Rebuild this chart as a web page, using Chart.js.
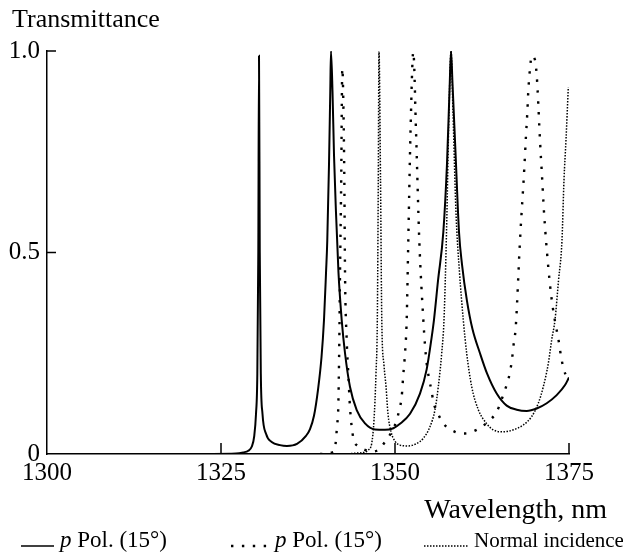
<!DOCTYPE html>
<html>
<head>
<meta charset="utf-8">
<script src="https://cdn.jsdelivr.net/npm/chart.js@4.4.1/dist/chart.umd.min.js"></script>
<style>
  html, body { margin: 0; padding: 0; background: #fff; }
  #chart { display: block; }
</style>
</head>
<body>
<canvas id="chart" width="623" height="558"></canvas>
<script>
// ================= data =================
const xTicks = [1300, 1325, 1350, 1375];
const yTicks = [0, 0.5, 1.0];

// p Pol. (15°) — solid
const solidWl = [1323.0, 1327.16, 1328.20, 1328.92, 1329.41, 1329.78, 1330.03, 1330.22, 1330.36, 1330.46,
  1330.57, 1330.72, 1330.96, 1331.47, 1332.28, 1333.48, 1334.48, 1335.92, 1337.21, 1337.79,
  1338.36, 1338.94, 1339.44, 1339.80, 1340.09, 1340.27, 1340.52, 1340.70, 1340.80, 1341.02,
  1341.24, 1341.52, 1341.88, 1342.34, 1342.82, 1343.53, 1344.50, 1345.69, 1347.13, 1348.56,
  1349.76, 1350.72, 1352.16, 1353.59, 1354.55, 1355.27, 1355.60, 1356.18, 1356.94, 1357.47,
  1357.83, 1358.05, 1358.26, 1358.69, 1359.20, 1359.63, 1360.34, 1361.13, 1362.21, 1363.22,
  1364.61, 1366.05, 1367.49, 1368.92, 1370.36, 1371.80, 1373.23, 1374.43, 1375.0];
const solidT = [0, 0.001, 0.004, 0.008, 0.018, 0.045, 0.10, 0.2, 0.5, 0.988,
  0.5, 0.2, 0.10, 0.05, 0.03, 0.022, 0.02, 0.025, 0.045, 0.062,
  0.095, 0.16, 0.24, 0.333, 0.45, 0.53, 0.72, 0.9, 1.0, 0.9,
  0.74, 0.6, 0.45, 0.333, 0.25, 0.167, 0.109, 0.076, 0.061, 0.06,
  0.064, 0.075, 0.10, 0.15, 0.21, 0.29, 0.333, 0.43, 0.55, 0.72,
  0.9, 1.0, 0.92, 0.75, 0.55, 0.47, 0.38, 0.31, 0.25, 0.2,
  0.15, 0.12, 0.11, 0.107, 0.113, 0.126, 0.146, 0.171, 0.19];

// p Pol. (15°) — coarse dots
const coarseWl = [1339.22, 1341.09, 1341.38, 1341.52, 1341.67, 1341.85, 1342.00, 1342.10, 1342.27, 1342.43,
  1342.60, 1342.72, 1342.82, 1343.06, 1343.29, 1343.53, 1344.01, 1344.68, 1345.69, 1346.70,
  1347.56, 1348.56, 1349.67, 1350.24, 1350.62, 1350.96, 1351.19, 1351.44, 1351.68, 1351.91,
  1352.23, 1352.63, 1353.02, 1353.49, 1354.07, 1354.31, 1354.55, 1354.93, 1355.27, 1355.50,
  1356.18, 1356.94, 1358.62, 1360.06, 1361.74, 1363.36, 1364.61, 1365.80, 1366.28, 1366.62,
  1366.85, 1367.00, 1367.24, 1367.38, 1367.96, 1368.58, 1368.82, 1369.01, 1369.15, 1369.40,
  1369.64, 1370.11, 1370.36, 1370.59, 1370.73, 1370.98, 1371.08, 1371.41, 1371.84, 1372.27,
  1372.70, 1373.13, 1373.46, 1373.71, 1373.95, 1374.28, 1374.71];
const coarseT = [0, 0.005, 0.015, 0.035, 0.07, 0.117, 0.283, 0.449, 0.68, 0.957,
  0.85, 0.68, 0.449, 0.283, 0.2, 0.117, 0.04, 0.02, 0.01, 0.006,
  0.01, 0.03, 0.06, 0.084, 0.11, 0.142, 0.196, 0.25, 0.333, 0.53,
  0.8, 0.998, 0.8, 0.53, 0.333, 0.27, 0.225, 0.184, 0.155, 0.13,
  0.1, 0.076, 0.055, 0.051, 0.06, 0.08, 0.105, 0.159, 0.185, 0.213,
  0.24, 0.266, 0.295, 0.323, 0.53, 0.71, 0.79, 0.847, 0.9, 0.957,
  0.988, 0.978, 0.94, 0.868, 0.814, 0.731, 0.703, 0.6, 0.5, 0.42,
  0.36, 0.316, 0.287, 0.258, 0.233, 0.208, 0.19];

// Normal incidence — fine dots
const normalWl = [1342.82, 1344.25, 1345.69, 1346.16, 1346.65, 1346.98, 1347.27, 1347.46, 1347.60, 1347.70,
  1347.92, 1348.10, 1348.42, 1348.71, 1348.99, 1349.43, 1350.00, 1350.72, 1351.91, 1353.12,
  1354.07, 1355.03, 1355.75, 1356.22, 1356.71, 1357.04, 1357.40, 1357.76, 1358.05, 1358.33,
  1358.76, 1359.27, 1359.81, 1360.30, 1361.02, 1361.97, 1363.18, 1364.12, 1365.56, 1367.00,
  1368.43, 1369.64, 1370.59, 1371.31, 1372.03, 1372.51, 1372.99, 1373.49, 1373.99, 1374.28,
  1374.57, 1374.90];
const normalT = [0, 0.002, 0.005, 0.01, 0.026, 0.084, 0.2, 0.333, 0.68, 1.0,
  0.68, 0.333, 0.22, 0.167, 0.1, 0.055, 0.032, 0.022, 0.02, 0.026,
  0.039, 0.068, 0.11, 0.167, 0.25, 0.333, 0.55, 0.85, 1.0, 0.85,
  0.6, 0.45, 0.333, 0.25, 0.167, 0.11, 0.075, 0.06, 0.055, 0.06,
  0.072, 0.093, 0.126, 0.167, 0.225, 0.283, 0.333, 0.43, 0.53, 0.68,
  0.78, 0.91];

// ================= chart =================
const SERIF = "'Liberation Serif', 'Times New Roman', serif";
Chart.defaults.font.family = SERIF;
Chart.defaults.color = '#000';

const toPoints = (xs, ys) => xs.map((x, i) => ({ x, y: ys[i] }));

const lineStyles = [
  { borderWidth: 2, borderDash: [] },
  { borderWidth: 2.4, borderDash: [2.4, 8.5] },
  { borderWidth: 1.5, borderDash: [1.5, 1.5] }
];

// inward ticks, axis texts and the legend
const decorations = {
  id: 'decorations',
  afterDraw(chart) {
    const { ctx, chartArea: a, scales: { x, y } } = chart;
    ctx.save();
    ctx.strokeStyle = '#000';
    ctx.lineWidth = 1.5;
    ctx.beginPath();
    yTicks.slice(1).forEach(v => {
      const py = y.getPixelForValue(v);
      ctx.moveTo(a.left, py);
      ctx.lineTo(a.left + 9, py);
    });
    xTicks.slice(1).forEach(v => {
      const px = x.getPixelForValue(v);
      ctx.moveTo(px, a.bottom);
      ctx.lineTo(px, a.bottom - 11);
    });
    ctx.stroke();

    ctx.fillStyle = '#000';
    ctx.textBaseline = 'alphabetic';
    ctx.font = `26px ${SERIF}`;
    ctx.fillText('Transmittance', 12, 27);
    ctx.textAlign = 'right';
    ctx.font = `28px ${SERIF}`;
    ctx.fillText('Wavelength, nm', 607, 518);

    // legend
    const ly = 547;
    const items = [
      { style: lineStyles[0], x0: 21, x1: 54, tx: 60, size: 23, italic: 'p', text: ' Pol. (15°)' },
      { style: lineStyles[1], x0: 231, x1: 268, tx: 275, size: 23, italic: 'p', text: ' Pol. (15°)' },
      { style: lineStyles[2], x0: 424, x1: 468, tx: 474, size: 21, italic: '', text: 'Normal incidence' }
    ];
    ctx.textAlign = 'left';
    items.forEach(it => {
      ctx.lineWidth = it.style.borderWidth === 2 ? 1.5 : it.style.borderWidth;
      ctx.setLineDash(it.style.borderDash);
      ctx.beginPath();
      ctx.moveTo(it.x0, ly - 1);
      ctx.lineTo(it.x1, ly - 1);
      ctx.stroke();
      ctx.setLineDash([]);
      let tx = it.tx;
      if (it.italic) {
        ctx.font = `italic ${it.size}px ${SERIF}`;
        ctx.fillText(it.italic, tx, ly);
        tx += ctx.measureText(it.italic).width;
      }
      ctx.font = `${it.size}px ${SERIF}`;
      ctx.fillText(it.text, tx, ly);
    });
    ctx.restore();
  }
};

new Chart(document.getElementById('chart'), {
  type: 'scatter',
  data: {
    datasets: [
      { label: 'p Pol. (15°)', data: toPoints(solidWl, solidT) },
      { label: 'p Pol. (15°)', data: toPoints(coarseWl, coarseT) },
      { label: 'Normal incidence', data: toPoints(normalWl, normalT) }
    ].map((d, i) => ({
      ...d,
      showLine: true,
      pointRadius: 0,
      borderColor: '#000',
      backgroundColor: '#000',
      borderWidth: lineStyles[i].borderWidth,
      borderDash: lineStyles[i].borderDash,
      cubicInterpolationMode: 'monotone',
      fill: false
    }))
  },
  options: {
    responsive: false,
    animation: false,
    events: [],
    layout: { padding: { top: 51, right: 54, left: 0, bottom: 0 } },
    plugins: { legend: { display: false }, tooltip: { enabled: false } },
    scales: {
      x: {
        type: 'linear',
        min: 1300,
        max: 1375,
        afterBuildTicks: s => { s.ticks = xTicks.map(v => ({ value: v })); },
        afterFit: s => { s.height = 104; },
        grid: { display: false, drawTicks: false },
        border: { display: true, color: '#000', width: 1.5 },
        ticks: { font: { size: 25 }, padding: 4, maxRotation: 0, autoSkip: false, callback: v => String(v) }
      },
      y: {
        min: 0,
        max: 1,
        afterBuildTicks: s => { s.ticks = yTicks.map(v => ({ value: v })); },
        afterFit: s => { s.width = 47; },
        grid: { display: false, drawTicks: false },
        border: { display: true, color: '#000', width: 1.5 },
        ticks: {
          font: { size: 25 },
          padding: 7,
          callback: v => (v === 0 ? '0' : v.toFixed(1))
        }
      }
    }
  },
  plugins: [decorations]
});
</script>
</body>
</html>
